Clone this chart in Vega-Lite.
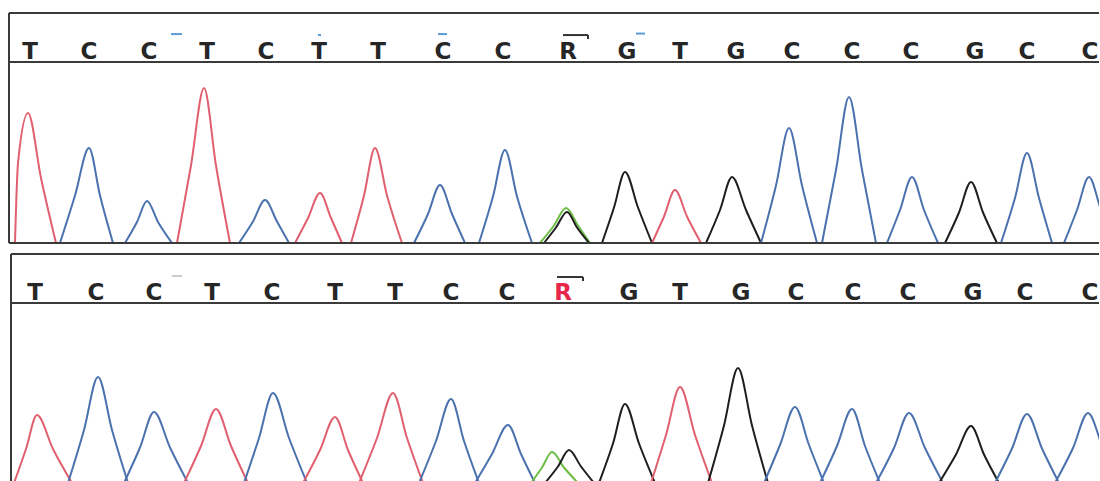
{
  "$schema": "https://vega.github.io/schema/vega-lite/v6.json",
  "background": "white",
  "padding": {"left": 8, "top": 12, "right": 0, "bottom": 0},
  "bounds": "flush",
  "spacing": 0,
  "resolve": {"scale": {"x": "independent", "y": "independent", "color": "independent"}},
  "config": {"view": {"stroke": null}, "axis": {"disable": true}, "legend": {"disable": true}, "scale": {"zero": false}},
  "datasets": {
    "one": [{"n": 1}],
    "calls": [
      {"panel": "top", "s": 30, "base": "T"}, {"panel": "top", "s": 89, "base": "C"}, {"panel": "top", "s": 149, "base": "C"},
      {"panel": "top", "s": 207, "base": "T"}, {"panel": "top", "s": 266, "base": "C"}, {"panel": "top", "s": 319, "base": "T"},
      {"panel": "top", "s": 378, "base": "T"}, {"panel": "top", "s": 443, "base": "C"}, {"panel": "top", "s": 503, "base": "C"},
      {"panel": "top", "s": 568, "base": "R"}, {"panel": "top", "s": 627, "base": "G"}, {"panel": "top", "s": 680, "base": "T"},
      {"panel": "top", "s": 736, "base": "G"}, {"panel": "top", "s": 792, "base": "C"}, {"panel": "top", "s": 852, "base": "C"},
      {"panel": "top", "s": 911, "base": "C"}, {"panel": "top", "s": 975, "base": "G"}, {"panel": "top", "s": 1027, "base": "C"},
      {"panel": "top", "s": 1090, "base": "C"},
      {"panel": "bottom", "s": 35, "base": "T"}, {"panel": "bottom", "s": 96, "base": "C"}, {"panel": "bottom", "s": 154, "base": "C"},
      {"panel": "bottom", "s": 212, "base": "T"}, {"panel": "bottom", "s": 272, "base": "C"}, {"panel": "bottom", "s": 335, "base": "T"},
      {"panel": "bottom", "s": 395, "base": "T"}, {"panel": "bottom", "s": 451, "base": "C"}, {"panel": "bottom", "s": 507, "base": "C"},
      {"panel": "bottom", "s": 563, "base": "R"}, {"panel": "bottom", "s": 629, "base": "G"}, {"panel": "bottom", "s": 680, "base": "T"},
      {"panel": "bottom", "s": 741, "base": "G"}, {"panel": "bottom", "s": 796, "base": "C"}, {"panel": "bottom", "s": 853, "base": "C"},
      {"panel": "bottom", "s": 908, "base": "C"}, {"panel": "bottom", "s": 973, "base": "G"}, {"panel": "bottom", "s": 1025, "base": "C"},
      {"panel": "bottom", "s": 1090, "base": "C"}
    ],
    "decor": [
      {"panel": "top", "kind": "mark", "x1": 171, "x2": 182, "y1": 0.57, "y2": 0.57},
      {"panel": "top", "kind": "mark", "x1": 318, "x2": 321, "y1": 0.55, "y2": 0.55},
      {"panel": "top", "kind": "mark", "x1": 438, "x2": 447, "y1": 0.57, "y2": 0.57},
      {"panel": "top", "kind": "mark", "x1": 636, "x2": 645, "y1": 0.58, "y2": 0.58},
      {"panel": "top", "kind": "bar", "x1": 563, "x2": 588, "y1": 0.55, "y2": 0.55},
      {"panel": "top", "kind": "bar", "x1": 588, "x2": 588, "y1": 0.55, "y2": 0.47},
      {"panel": "bottom", "kind": "faint", "x1": 172, "x2": 182, "y1": 0.55, "y2": 0.55},
      {"panel": "bottom", "kind": "bar", "x1": 557, "x2": 583, "y1": 0.53, "y2": 0.53},
      {"panel": "bottom", "kind": "bar", "x1": 583, "x2": 583, "y1": 0.53, "y2": 0.45}
    ],
    "traceTop": [
      {"k": 1, "b": "T", "s": 15, "v": 0}, {"k": 1, "b": "T", "s": 18, "v": 800}, {"k": 1, "b": "T", "s": 28, "v": 1300}, {"k": 1, "b": "T", "s": 41, "v": 650}, {"k": 1, "b": "T", "s": 56, "v": 0},
      {"k": 2, "b": "C", "s": 60, "v": 0}, {"k": 2, "b": "C", "s": 75, "v": 475}, {"k": 2, "b": "C", "s": 89, "v": 950}, {"k": 2, "b": "C", "s": 100, "v": 475}, {"k": 2, "b": "C", "s": 113, "v": 0},
      {"k": 3, "b": "C", "s": 125, "v": 0}, {"k": 3, "b": "C", "s": 137, "v": 210}, {"k": 3, "b": "C", "s": 147, "v": 420}, {"k": 3, "b": "C", "s": 158, "v": 210}, {"k": 3, "b": "C", "s": 172, "v": 0},
      {"k": 4, "b": "T", "s": 177, "v": 0}, {"k": 4, "b": "T", "s": 191, "v": 775}, {"k": 4, "b": "T", "s": 204, "v": 1550}, {"k": 4, "b": "T", "s": 216, "v": 775}, {"k": 4, "b": "T", "s": 230, "v": 0},
      {"k": 5, "b": "C", "s": 239, "v": 0}, {"k": 5, "b": "C", "s": 253, "v": 215}, {"k": 5, "b": "C", "s": 265, "v": 430}, {"k": 5, "b": "C", "s": 277, "v": 215}, {"k": 5, "b": "C", "s": 289, "v": 0},
      {"k": 6, "b": "T", "s": 295, "v": 0}, {"k": 6, "b": "T", "s": 308, "v": 250}, {"k": 6, "b": "T", "s": 320, "v": 500}, {"k": 6, "b": "T", "s": 331, "v": 250}, {"k": 6, "b": "T", "s": 342, "v": 0},
      {"k": 7, "b": "T", "s": 351, "v": 0}, {"k": 7, "b": "T", "s": 364, "v": 475}, {"k": 7, "b": "T", "s": 375, "v": 950}, {"k": 7, "b": "T", "s": 387, "v": 475}, {"k": 7, "b": "T", "s": 402, "v": 0},
      {"k": 8, "b": "C", "s": 414, "v": 0}, {"k": 8, "b": "C", "s": 428, "v": 290}, {"k": 8, "b": "C", "s": 440, "v": 580}, {"k": 8, "b": "C", "s": 452, "v": 290}, {"k": 8, "b": "C", "s": 465, "v": 0},
      {"k": 9, "b": "C", "s": 479, "v": 0}, {"k": 9, "b": "C", "s": 493, "v": 465}, {"k": 9, "b": "C", "s": 505, "v": 930}, {"k": 9, "b": "C", "s": 517, "v": 465}, {"k": 9, "b": "C", "s": 532, "v": 0},
      {"k": 10, "b": "A", "s": 540, "v": 0}, {"k": 10, "b": "A", "s": 554, "v": 175}, {"k": 10, "b": "A", "s": 566, "v": 350}, {"k": 10, "b": "A", "s": 578, "v": 175}, {"k": 10, "b": "A", "s": 590, "v": 0},
      {"k": 11, "b": "G", "s": 544, "v": 0}, {"k": 11, "b": "G", "s": 556, "v": 155}, {"k": 11, "b": "G", "s": 567, "v": 310}, {"k": 11, "b": "G", "s": 577, "v": 155}, {"k": 11, "b": "G", "s": 589, "v": 0},
      {"k": 12, "b": "G", "s": 602, "v": 0}, {"k": 12, "b": "G", "s": 614, "v": 355}, {"k": 12, "b": "G", "s": 625, "v": 710}, {"k": 12, "b": "G", "s": 638, "v": 355}, {"k": 12, "b": "G", "s": 652, "v": 0},
      {"k": 13, "b": "T", "s": 652, "v": 0}, {"k": 13, "b": "T", "s": 664, "v": 265}, {"k": 13, "b": "T", "s": 675, "v": 530}, {"k": 13, "b": "T", "s": 687, "v": 265}, {"k": 13, "b": "T", "s": 701, "v": 0},
      {"k": 14, "b": "G", "s": 706, "v": 0}, {"k": 14, "b": "G", "s": 720, "v": 330}, {"k": 14, "b": "G", "s": 732, "v": 660}, {"k": 14, "b": "G", "s": 746, "v": 330}, {"k": 14, "b": "G", "s": 761, "v": 0},
      {"k": 15, "b": "C", "s": 761, "v": 0}, {"k": 15, "b": "C", "s": 776, "v": 575}, {"k": 15, "b": "C", "s": 789, "v": 1150}, {"k": 15, "b": "C", "s": 802, "v": 575}, {"k": 15, "b": "C", "s": 817, "v": 0},
      {"k": 16, "b": "C", "s": 822, "v": 0}, {"k": 16, "b": "C", "s": 836, "v": 730}, {"k": 16, "b": "C", "s": 849, "v": 1460}, {"k": 16, "b": "C", "s": 862, "v": 730}, {"k": 16, "b": "C", "s": 876, "v": 0},
      {"k": 17, "b": "C", "s": 887, "v": 0}, {"k": 17, "b": "C", "s": 900, "v": 330}, {"k": 17, "b": "C", "s": 912, "v": 660}, {"k": 17, "b": "C", "s": 924, "v": 330}, {"k": 17, "b": "C", "s": 938, "v": 0},
      {"k": 18, "b": "G", "s": 945, "v": 0}, {"k": 18, "b": "G", "s": 959, "v": 305}, {"k": 18, "b": "G", "s": 971, "v": 610}, {"k": 18, "b": "G", "s": 983, "v": 305}, {"k": 18, "b": "G", "s": 997, "v": 0},
      {"k": 19, "b": "C", "s": 1001, "v": 0}, {"k": 19, "b": "C", "s": 1015, "v": 450}, {"k": 19, "b": "C", "s": 1027, "v": 900}, {"k": 19, "b": "C", "s": 1039, "v": 450}, {"k": 19, "b": "C", "s": 1052, "v": 0},
      {"k": 20, "b": "C", "s": 1064, "v": 0}, {"k": 20, "b": "C", "s": 1077, "v": 330}, {"k": 20, "b": "C", "s": 1089, "v": 660}, {"k": 20, "b": "C", "s": 1101, "v": 330}, {"k": 20, "b": "C", "s": 1114, "v": 0}
    ],
    "traceBot": [
      {"k": 1, "b": "T", "s": 14, "v": 0}, {"k": 1, "b": "T", "s": 26, "v": 340}, {"k": 1, "b": "T", "s": 37, "v": 680}, {"k": 1, "b": "T", "s": 53, "v": 340}, {"k": 1, "b": "T", "s": 72, "v": 0},
      {"k": 2, "b": "C", "s": 68, "v": 0}, {"k": 2, "b": "C", "s": 84, "v": 530}, {"k": 2, "b": "C", "s": 98, "v": 1060}, {"k": 2, "b": "C", "s": 112, "v": 530}, {"k": 2, "b": "C", "s": 128, "v": 0},
      {"k": 3, "b": "C", "s": 124, "v": 0}, {"k": 3, "b": "C", "s": 140, "v": 355}, {"k": 3, "b": "C", "s": 154, "v": 710}, {"k": 3, "b": "C", "s": 170, "v": 355}, {"k": 3, "b": "C", "s": 188, "v": 0},
      {"k": 4, "b": "T", "s": 184, "v": 0}, {"k": 4, "b": "T", "s": 201, "v": 370}, {"k": 4, "b": "T", "s": 216, "v": 740}, {"k": 4, "b": "T", "s": 231, "v": 370}, {"k": 4, "b": "T", "s": 248, "v": 0},
      {"k": 5, "b": "C", "s": 244, "v": 0}, {"k": 5, "b": "C", "s": 259, "v": 450}, {"k": 5, "b": "C", "s": 273, "v": 900}, {"k": 5, "b": "C", "s": 289, "v": 450}, {"k": 5, "b": "C", "s": 307, "v": 0},
      {"k": 6, "b": "T", "s": 303, "v": 0}, {"k": 6, "b": "T", "s": 320, "v": 330}, {"k": 6, "b": "T", "s": 335, "v": 660}, {"k": 6, "b": "T", "s": 348, "v": 330}, {"k": 6, "b": "T", "s": 363, "v": 0},
      {"k": 7, "b": "T", "s": 359, "v": 0}, {"k": 7, "b": "T", "s": 377, "v": 450}, {"k": 7, "b": "T", "s": 393, "v": 900}, {"k": 7, "b": "T", "s": 407, "v": 450}, {"k": 7, "b": "T", "s": 423, "v": 0},
      {"k": 8, "b": "C", "s": 419, "v": 0}, {"k": 8, "b": "C", "s": 436, "v": 420}, {"k": 8, "b": "C", "s": 451, "v": 840}, {"k": 8, "b": "C", "s": 464, "v": 420}, {"k": 8, "b": "C", "s": 479, "v": 0},
      {"k": 9, "b": "C", "s": 475, "v": 0}, {"k": 9, "b": "C", "s": 492, "v": 290}, {"k": 9, "b": "C", "s": 508, "v": 580}, {"k": 9, "b": "C", "s": 521, "v": 290}, {"k": 9, "b": "C", "s": 535, "v": 0},
      {"k": 10, "b": "A", "s": 531, "v": 0}, {"k": 10, "b": "A", "s": 542, "v": 155}, {"k": 10, "b": "A", "s": 552, "v": 310}, {"k": 10, "b": "A", "s": 564, "v": 155}, {"k": 10, "b": "A", "s": 578, "v": 0},
      {"k": 11, "b": "G", "s": 545, "v": 0}, {"k": 11, "b": "G", "s": 558, "v": 165}, {"k": 11, "b": "G", "s": 569, "v": 330}, {"k": 11, "b": "G", "s": 581, "v": 165}, {"k": 11, "b": "G", "s": 594, "v": 0},
      {"k": 12, "b": "G", "s": 599, "v": 0}, {"k": 12, "b": "G", "s": 613, "v": 395}, {"k": 12, "b": "G", "s": 625, "v": 790}, {"k": 12, "b": "G", "s": 639, "v": 395}, {"k": 12, "b": "G", "s": 655, "v": 0},
      {"k": 13, "b": "T", "s": 651, "v": 0}, {"k": 13, "b": "T", "s": 666, "v": 480}, {"k": 13, "b": "T", "s": 680, "v": 960}, {"k": 13, "b": "T", "s": 695, "v": 480}, {"k": 13, "b": "T", "s": 712, "v": 0},
      {"k": 14, "b": "G", "s": 708, "v": 0}, {"k": 14, "b": "G", "s": 724, "v": 575}, {"k": 14, "b": "G", "s": 738, "v": 1150}, {"k": 14, "b": "G", "s": 752, "v": 575}, {"k": 14, "b": "G", "s": 768, "v": 0},
      {"k": 15, "b": "C", "s": 764, "v": 0}, {"k": 15, "b": "C", "s": 780, "v": 380}, {"k": 15, "b": "C", "s": 795, "v": 760}, {"k": 15, "b": "C", "s": 809, "v": 380}, {"k": 15, "b": "C", "s": 824, "v": 0},
      {"k": 16, "b": "C", "s": 820, "v": 0}, {"k": 16, "b": "C", "s": 837, "v": 370}, {"k": 16, "b": "C", "s": 852, "v": 740}, {"k": 16, "b": "C", "s": 865, "v": 370}, {"k": 16, "b": "C", "s": 880, "v": 0},
      {"k": 17, "b": "C", "s": 876, "v": 0}, {"k": 17, "b": "C", "s": 894, "v": 350}, {"k": 17, "b": "C", "s": 909, "v": 700}, {"k": 17, "b": "C", "s": 925, "v": 350}, {"k": 17, "b": "C", "s": 943, "v": 0},
      {"k": 18, "b": "G", "s": 939, "v": 0}, {"k": 18, "b": "G", "s": 956, "v": 285}, {"k": 18, "b": "G", "s": 971, "v": 570}, {"k": 18, "b": "G", "s": 984, "v": 285}, {"k": 18, "b": "G", "s": 999, "v": 0},
      {"k": 19, "b": "C", "s": 995, "v": 0}, {"k": 19, "b": "C", "s": 1012, "v": 345}, {"k": 19, "b": "C", "s": 1027, "v": 690}, {"k": 19, "b": "C", "s": 1042, "v": 345}, {"k": 19, "b": "C", "s": 1059, "v": 0},
      {"k": 20, "b": "C", "s": 1055, "v": 0}, {"k": 20, "b": "C", "s": 1073, "v": 350}, {"k": 20, "b": "C", "s": 1088, "v": 700}, {"k": 20, "b": "C", "s": 1103, "v": 350}, {"k": 20, "b": "C", "s": 1120, "v": 0}
    ]
  },
  "vconcat": [
    {
      "width": 1090, "height": 49,
      "layer": [
        {
          "data": {"name": "calls"},
          "transform": [{"filter": "datum.panel == 'top'"}],
          "mark": {"type": "text", "font": "DejaVu Sans", "fontWeight": "bold", "fontSize": 23, "baseline": "alphabetic", "align": "center", "clip": true},
          "encoding": {
            "x": {"field": "s", "type": "quantitative", "scale": {"domain": [9, 1099], "nice": false}, "axis": null},
            "y": {"datum": 0.07, "type": "quantitative", "scale": {"domain": [0, 1], "nice": false}, "axis": null},
            "text": {"field": "base"},
            "color": {"value": "#262626"}
          }
        },
        {
          "data": {"name": "decor"},
          "transform": [{"filter": "datum.panel == 'top'"}],
          "mark": {"type": "rule", "strokeWidth": 2},
          "encoding": {
            "x": {"field": "x1", "type": "quantitative"},
            "x2": {"field": "x2"},
            "y": {"field": "y1", "type": "quantitative"},
            "y2": {"field": "y2"},
            "color": {"field": "kind", "type": "nominal", "scale": {"domain": ["bar", "mark", "faint"], "range": ["#333333", "#5a9bd8", "#cccccc"]}, "legend": null}
          }
        },
        {"data": {"name": "one"}, "mark": {"type": "rule", "color": "#3a3a3a", "strokeWidth": 2}, "encoding": {"x": {"datum": 9, "type": "quantitative"}, "x2": {"datum": 1099}, "y": {"datum": 1, "type": "quantitative"}}},
        {"data": {"name": "one"}, "mark": {"type": "rule", "color": "#3a3a3a", "strokeWidth": 2}, "encoding": {"x": {"datum": 9, "type": "quantitative"}, "x2": {"datum": 1099}, "y": {"datum": 0, "type": "quantitative"}}},
        {"data": {"name": "one"}, "mark": {"type": "rule", "color": "#3a3a3a", "strokeWidth": 2}, "encoding": {"x": {"datum": 9, "type": "quantitative"}, "y": {"datum": 0, "type": "quantitative"}, "y2": {"datum": 1}}}
      ]
    },
    {
      "width": 1090, "height": 192,
      "layer": [
        {
          "data": {"name": "traceTop"},
          "mark": {"type": "line", "interpolate": "monotone", "clip": true, "strokeWidth": 2},
          "encoding": {
            "x": {"field": "s", "type": "quantitative", "scale": {"domain": [9, 1099], "nice": false}, "axis": null},
            "y": {"field": "v", "type": "quantitative", "scale": {"domain": [-110, 1810], "nice": false}, "axis": null},
            "detail": {"field": "k"},
            "color": {"field": "b", "type": "nominal", "scale": {"domain": ["A", "C", "G", "T"], "range": ["#6cbd45", "#4b72ae", "#1e1e1e", "#e1606f"]}, "legend": null}
          }
        },
        {"data": {"name": "one"}, "mark": {"type": "rule", "color": "#3a3a3a", "strokeWidth": 2}, "encoding": {"x": {"datum": 9, "type": "quantitative"}, "x2": {"datum": 1099}, "y": {"datum": 0, "type": "quantitative"}}},
        {"data": {"name": "one"}, "mark": {"type": "rule", "color": "#3a3a3a", "strokeWidth": 2}, "encoding": {"x": {"datum": 9, "type": "quantitative"}, "y": {"datum": 0, "type": "quantitative"}, "y2": {"datum": 1810}}}
      ]
    },
    {
      "width": 1090, "height": 49,
      "layer": [
        {
          "data": {"name": "calls"},
          "transform": [{"filter": "datum.panel == 'bottom'"}],
          "mark": {"type": "text", "font": "DejaVu Sans", "fontWeight": "bold", "fontSize": 23, "baseline": "alphabetic", "align": "center", "clip": true},
          "encoding": {
            "x": {"field": "s", "type": "quantitative", "scale": {"domain": [9, 1099], "nice": false}, "axis": null},
            "y": {"datum": 0.07, "type": "quantitative", "scale": {"domain": [0, 1], "nice": false}, "axis": null},
            "text": {"field": "base"},
            "color": {"condition": {"test": "datum.base == 'R'", "value": "#e8254a"}, "value": "#262626"}
          }
        },
        {
          "data": {"name": "decor"},
          "transform": [{"filter": "datum.panel == 'bottom'"}],
          "mark": {"type": "rule", "strokeWidth": 2},
          "encoding": {
            "x": {"field": "x1", "type": "quantitative"},
            "x2": {"field": "x2"},
            "y": {"field": "y1", "type": "quantitative"},
            "y2": {"field": "y2"},
            "color": {"field": "kind", "type": "nominal", "scale": {"domain": ["bar", "mark", "faint"], "range": ["#333333", "#5a9bd8", "#cccccc"]}, "legend": null}
          }
        },
        {"data": {"name": "one"}, "mark": {"type": "rule", "color": "#3a3a3a", "strokeWidth": 2}, "encoding": {"x": {"datum": 11, "type": "quantitative"}, "x2": {"datum": 1099}, "y": {"datum": 1, "type": "quantitative"}}},
        {"data": {"name": "one"}, "mark": {"type": "rule", "color": "#3a3a3a", "strokeWidth": 2}, "encoding": {"x": {"datum": 11, "type": "quantitative"}, "x2": {"datum": 1099}, "y": {"datum": 0, "type": "quantitative"}}},
        {"data": {"name": "one"}, "mark": {"type": "rule", "color": "#3a3a3a", "strokeWidth": 2}, "encoding": {"x": {"datum": 11, "type": "quantitative"}, "y": {"datum": 0, "type": "quantitative"}, "y2": {"datum": 1}}}
      ]
    },
    {
      "width": 1090, "height": 178,
      "layer": [
        {
          "data": {"name": "traceBot"},
          "mark": {"type": "line", "interpolate": "monotone", "clip": true, "strokeWidth": 2},
          "encoding": {
            "x": {"field": "s", "type": "quantitative", "scale": {"domain": [9, 1099], "nice": false}, "axis": null},
            "y": {"field": "v", "type": "quantitative", "scale": {"domain": [20, 1800], "nice": false}, "axis": null},
            "detail": {"field": "k"},
            "color": {"field": "b", "type": "nominal", "scale": {"domain": ["A", "C", "G", "T"], "range": ["#6cbd45", "#4b72ae", "#1e1e1e", "#e1606f"]}, "legend": null}
          }
        },
        {"data": {"name": "one"}, "mark": {"type": "rule", "color": "#3a3a3a", "strokeWidth": 2}, "encoding": {"x": {"datum": 11, "type": "quantitative"}, "y": {"datum": 20, "type": "quantitative"}, "y2": {"datum": 1800}}}
      ]
    }
  ]
}
